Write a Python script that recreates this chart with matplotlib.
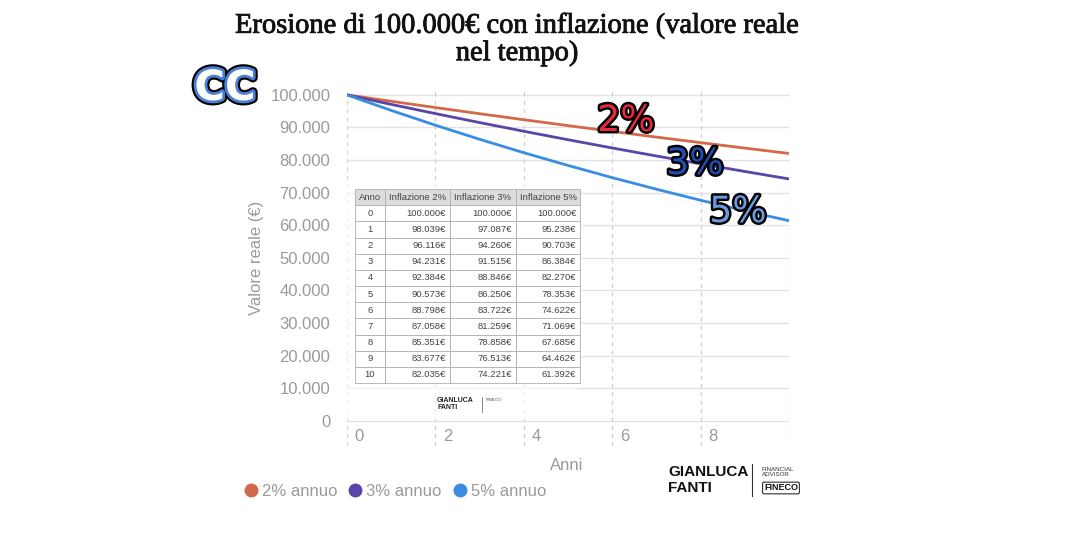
import matplotlib.pyplot as plt
import matplotlib.patheffects as pe
from matplotlib.lines import Line2D
from matplotlib.patches import Rectangle
from matplotlib.ticker import FuncFormatter

anni = [0, 1, 2, 3, 4, 5, 6, 7, 8, 9, 10]
infl_2 = [100000, 98039, 96116, 94231, 92384, 90573, 88798, 87058, 85351, 83677, 82035]
infl_3 = [100000, 97087, 94260, 91515, 88846, 86250, 83722, 81259, 78858, 76513, 74221]
infl_5 = [100000, 95238, 90703, 86384, 82270, 78353, 74622, 71069, 67685, 64462, 61392]
etichette = ['2% annuo', '3% annuo', '5% annuo']
colori = ['#d2694a', '#5a45a8', '#3a8de0']
x_ticks = [0, 2, 4, 6, 8]
y_ticks = list(range(0, 100001, 10000))

def fmt_it(v, pos=None):
    return f'{int(v):,}'.replace(',', '.')

grigio = '#9a9a9a'
sans = ['Liberation Sans', 'DejaVu Sans']

fig = plt.figure(figsize=(10.8, 5.4), dpi=100)
ax = fig.add_axes([347 / 1080, 1 - 446 / 540, 442 / 1080, 356 / 540])

for serie, col in zip([infl_2, infl_3, infl_5], colori):
    ax.plot(anni, serie, color=col, lw=2, zorder=3)

ax.set_xlim(0, 10)
ax.set_ylim(-7700, 101500)
ax.set_yticks(y_ticks)
ax.yaxis.set_major_formatter(FuncFormatter(fmt_it))
ax.set_xticks([])
for s in ax.spines.values():
    s.set_visible(False)
ax.tick_params(axis='y', length=0, pad=12, labelsize=12, labelcolor=grigio)
for lab in ax.get_yticklabels():
    lab.set_family(sans)

for y in y_ticks:
    ax.axhline(y, color='#e3e3e3', lw=1, zorder=1)
for x in x_ticks + [10]:
    ax.axvline(x, color='#d2d2d2', lw=1, ls=(0, (3, 3)), zorder=1)
for x in x_ticks:
    ax.text(x + 0.17, -4900, str(x), ha='left', va='center', fontsize=12,
            color=grigio, family=sans)

# velo bianco sotto la tabella (sopra la griglia)
ax.add_patch(Rectangle((340 / 1080, 1 - 420 / 540), 238 / 1080, 237 / 540,
                       transform=fig.transFigure, facecolor='white', alpha=0.6,
                       edgecolor='none', zorder=2, clip_on=False))

fig.text(567 / 1080, 1 - 466 / 540, 'Anni', ha='center', va='center',
         fontsize=12, color=grigio, family=sans)
fig.text(256 / 1080, 1 - 258 / 540, 'Valore reale (€)', ha='center', va='center',
         rotation=90, fontsize=12, color=grigio, family=sans)

fig.text(517 / 1080, 1 - 40 / 540, 'Erosione di 100.000€ con inflazione (valore reale\nnel tempo)',
         ha='center', va='center', fontsize=20.5, family=['Liberation Serif', 'DejaVu Serif'],
         linespacing=1.12, color='#111111',
         path_effects=[pe.withStroke(linewidth=0.6, foreground='#111111')])

# tabella
tab_ax = fig.add_axes([355 / 1080, 1 - 383 / 540, 225 / 1080, 194 / 540])
tab_ax.set_zorder(5)
tab_ax.axis('off')
righe = [[str(a), fmt_it(v2) + '€', fmt_it(v3) + '€', fmt_it(v5) + '€']
         for a, v2, v3, v5 in zip(anni, infl_2, infl_3, infl_5)]
tab = tab_ax.table(cellText=righe,
                   colLabels=['Anno', 'Inflazione 2%', 'Inflazione 3%', 'Inflazione 5%'],
                   colWidths=[30, 65, 66, 64], bbox=[0, 0, 1, 1])
tab.auto_set_font_size(False)
for (r, c), cell in tab.get_celld().items():
    cell.set_fontsize(6.8)
    cell.set_edgecolor('#b0b0b0')
    cell.set_linewidth(0.6)
    cell.get_text().set_color('#444444')
    cell.get_text().set_family(sans)
    if r == 0:
        cell.set_facecolor('#dcdcdc')
        cell.get_text().set_ha('center')
    elif c == 0:
        cell.get_text().set_ha('center')
    else:
        cell.set_facecolor('white')
        cell.get_text().set_ha('right')
        cell.PAD = 0.06

# etichette percentuali
bordo = [pe.withStroke(linewidth=3.5, foreground='black')]
for txt, x, y, col in [('2%', 626, 121, '#e8283c'), ('3%', 695, 164, '#1f4fb8'),
                       ('5%', 738, 212, '#6a9be0')]:
    fig.text(x / 1080, 1 - y / 540, txt, ha='center', va='center', fontsize=26,
             color=col, family='DejaVu Sans', path_effects=bordo)

# logo CC
fig.text(225 / 1080, 1 - 88 / 540, 'CC', ha='center', va='center', fontsize=30,
         fontweight='bold', color='white', family='DejaVu Sans',
         path_effects=[pe.Stroke(linewidth=7, foreground='black'),
                       pe.Stroke(linewidth=4, foreground='#4a7fd8'), pe.Normal()])

# legenda
handles = [Line2D([], [], marker='o', ls='none', color=c, markersize=9) for c in colori]
leg = fig.legend(handles, etichette, loc='center left', ncol=3, frameon=False,
                 bbox_to_anchor=(244 / 1080, 1 - 491 / 540), handlelength=0.8,
                 handletextpad=0.25, columnspacing=0.7, borderpad=0, borderaxespad=0,
                 prop={'family': sans, 'size': 12})
for t in leg.get_texts():
    t.set_color(grigio)

# firma in basso a destra
fig.text(668 / 1080, 1 - 480 / 540, 'GIANLUCA\nFANTI', ha='left', va='center',
         fontsize=11, fontweight='bold', family=sans, linespacing=1.1, color='#111111')
fig.add_artist(Line2D([752 / 1080, 752 / 1080], [1 - 464 / 540, 1 - 496 / 540],
                      color='#333333', lw=0.8))
fig.text(762 / 1080, 1 - 472 / 540, 'FINANCIAL\nADVISOR', ha='left', va='center',
         fontsize=4.5, family=sans, color='#333333', linespacing=1.0)
fig.text(781 / 1080, 1 - 488 / 540, 'FINECO', ha='center', va='center',
         fontsize=6.5, fontweight='bold', family=sans, color='#111111',
         bbox=dict(boxstyle='round,pad=0.15', fc='white', ec='#111111', lw=0.7))

# firma piccola sotto la tabella
fig.text(437 / 1080, 1 - 404 / 540, 'GIANLUCA\nFANTI', ha='left', va='center',
         fontsize=5, fontweight='bold', family=sans, linespacing=1.1, color='#222222')
fig.add_artist(Line2D([482 / 1080, 482 / 1080], [1 - 397 / 540, 1 - 412 / 540],
                      color='#555555', lw=0.5))
fig.text(486 / 1080, 1 - 400 / 540, 'FINECO', ha='left', va='center',
         fontsize=3, family=sans, color='#444444')

fig.savefig('out.png', dpi=100, facecolor='white')
